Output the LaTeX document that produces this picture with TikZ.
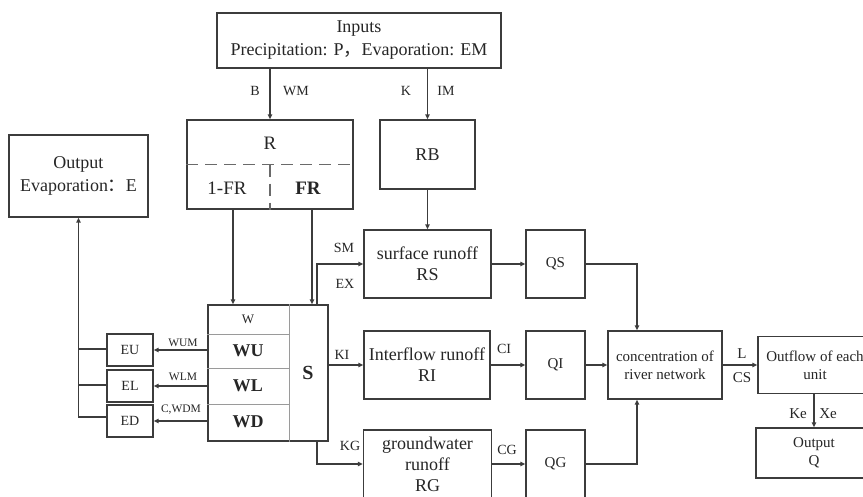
\documentclass[tikz,border=0pt]{standalone}
\usepackage{fontspec}
\setmainfont{Liberation Serif}
\newfontfamily\cjk{Noto Sans CJK SC}
\usetikzlibrary{arrows.meta}
\definecolor{ln}{HTML}{3C3C3C}
\definecolor{tx}{HTML}{262626}
\definecolor{dv}{HTML}{9A9A9A}
\definecolor{dsh}{HTML}{6A6A6A}
\begin{document}
\begin{tikzpicture}[x=1pt,y=-1pt,
  box/.style={draw=ln, line width=1.4pt, rectangle, inner sep=0pt, align=center, text=tx},
  conn/.style={draw=ln, line width=1.4pt},
  arr/.style={conn, -{Triangle[open,length=5pt,width=4.5pt]}},
  txt/.style={text=tx, inner sep=0pt},
  fa/.style={font=\fontsize{18}{23}\selectfont},
  fb/.style={font=\fontsize{18}{21}\selectfont},
  fc/.style={font=\fontsize{15}{18}\selectfont},
  fl/.style={font=\fontsize{14}{16}\selectfont},
  fs/.style={font=\fontsize{11.5}{13}\selectfont},
  dashln/.style={draw=dsh, line width=1.8pt, dash pattern=on 12pt off 7pt}
]
\fill[white] (0,0) rectangle (863,496);
\clip (0,0) rectangle (863,496);

% top
\node[box, fa, minimum width=284pt, minimum height=55pt] (inputs) at (359,40.5)
  {Inputs\\Precipitation: P{\cjk ，}Evaporation: EM};
\node[box, minimum width=166pt, minimum height=89pt] (rbox) at (270,164.5) {};
\draw[dashln] (rbox.west) -- (rbox.east);
\draw[dashln] (rbox.center) -- (rbox.south);
\node[txt, font=\fontsize{19}{21}\selectfont] (rlab) at (270,143) {R};
\node[txt, font=\fontsize{19}{21}\selectfont] (fr1) at (227,188) {1-FR};
\node[txt, font=\fontsize{19}{21}\bfseries\selectfont] (fr2) at (308,188) {FR};
\node[box, fb, minimum width=95pt, minimum height=69pt] (rb) at (427.5,154.5) {RB};
\node[box, fa, minimum width=139pt, minimum height=82pt] (outE) at (78.5,176)
  {Output\\Evaporation{\cjk ：}E};

\draw[arr] (inputs.south -| rbox.north) -- (rbox.north);
\draw[arr] (inputs.south -| rb.north) -- (rb.north);
\node[txt, fl] (lB) at (255,91) {B};
\node[txt, fl] (lWM) at (296,91) {WM};
\node[txt, fl] (lK) at (406,91) {K};
\node[txt, fl] (lIM) at (446,91) {IM};

% soil box
\node[box, minimum width=120pt, minimum height=136pt] (ws) at (268,373) {};
\draw[draw=dv, line width=1pt] (ws.north -| 289,0) -- (ws.south -| 289,0);
\draw[draw=dv, line width=1pt] (ws.west |- 0,334) -- (289,334);
\draw[draw=dv, line width=1pt] (ws.west |- 0,368) -- (289,368);
\draw[draw=dv, line width=1pt] (ws.west |- 0,404) -- (289,404);
\node[txt, font=\fontsize{13}{15}\selectfont] (tW) at (248,319) {W};
\node[txt, font=\fontsize{18}{20}\bfseries\selectfont] (tWU) at (248,351) {WU};
\node[txt, font=\fontsize{18}{20}\bfseries\selectfont] (tWL) at (248,386) {WL};
\node[txt, font=\fontsize{18}{20}\bfseries\selectfont] (tWD) at (248,422) {WD};
\node[txt, font=\fontsize{20}{22}\bfseries\selectfont] (tS) at (308,373) {S};

\draw[arr] (rbox.south -| 233,0) -- (ws.north -| 233,0);
\draw[arr] (rbox.south -| 312,0) -- (ws.north -| 312,0);

% evaporation boxes
\node[box, fl, minimum width=46pt, minimum height=32pt] (eu) at (130,350) {EU};
\node[box, fl, minimum width=46pt, minimum height=32pt] (el) at (130,386) {EL};
\node[box, fl, minimum width=46pt, minimum height=32pt] (ed) at (130,421) {ED};
\draw[arr] (ws.west |- eu.east) -- (eu.east);
\draw[arr] (ws.west |- el.east) -- (el.east);
\draw[arr] (ws.west |- ed.east) -- (ed.east);
\node[txt, fs] (lWUM) at (183,343) {WUM};
\node[txt, fs] (lWLM) at (183,377) {WLM};
\node[txt, fs] (lWDM) at (181,410) {C,WDM};
\draw[conn] ([yshift=1pt]eu.west) -- ([yshift=1pt]eu.west -| outE.south);
\draw[conn] ([yshift=1pt]el.west) -- ([yshift=1pt]el.west -| outE.south);
\draw[arr] ([yshift=4pt]ed.west) -| (outE.south);

% runoff boxes
\node[box, fb, minimum width=127pt, minimum height=68pt] (rs) at (427.5,264) {surface runoff\\RS};
\node[box, fb, minimum width=126pt, minimum height=68pt] (ri) at (427,365) {Interflow runoff\\RI};
\node[box, fb, minimum width=128pt, minimum height=68pt] (rg) at (427.5,464) {groundwater\\runoff\\RG};
\draw[arr] (rb.south) -- (rs.north);
\draw[arr] (ws.north -| 317,0) |- (rs.west);
\draw[arr] (ws.east |- ri.west) -- (ri.west);
\draw[arr] (ws.south -| 317,0) |- (rg.west);
\node[txt, fl] (lSM) at (344,248) {SM};
\node[txt, fl] (lEX) at (345,284) {EX};
\node[txt, fl] (lKI) at (342,355) {KI};
\node[txt, fl] (lKG) at (350,446) {KG};

\node[box, fc, minimum width=59pt, minimum height=68pt] (qs) at (555.5,264) {QS};
\node[box, fc, minimum width=59pt, minimum height=68pt] (qi) at (555.5,365) {QI};
\node[box, fc, minimum width=59pt, minimum height=68pt] (qg) at (555.5,464) {QG};
\draw[arr] (rs.east) -- (qs.west);
\draw[arr] (ri.east) -- (qi.west);
\draw[arr] (rg.east) -- (qg.west);
\node[txt, fl] (lCI) at (504,349) {CI};
\node[txt, fl] (lCG) at (507,450) {CG};

% river network
\node[box, fc, minimum width=114pt, minimum height=68pt] (conc) at (665,365) {concentration of\\river network};
\draw[arr] (qs.east) -| (conc.north -| 637,0);
\draw[arr] (qi.east) -- (conc.west);
\draw[arr] (qg.east) -| (conc.south -| 637,0);

\node[box, fc, minimum width=114pt, minimum height=57pt] (outflow) at (815,365) {Outflow of each\\unit};
\draw[arr] (conc.east) -- (outflow.west);
\node[txt, fc] (lL) at (742,354) {L};
\node[txt, fc] (lCS) at (742,378) {CS};

\node[box, fc, minimum width=116pt, minimum height=50pt] (outQ) at (814,453) {Output\\Q};
\draw[arr] (outflow.south -| 814,0) -- (outQ.north -| 814,0);
\node[txt, fc] (lKe) at (798,414) {Ke};
\node[txt, fc] (lXe) at (828,414) {Xe};
\end{tikzpicture}
\end{document}
